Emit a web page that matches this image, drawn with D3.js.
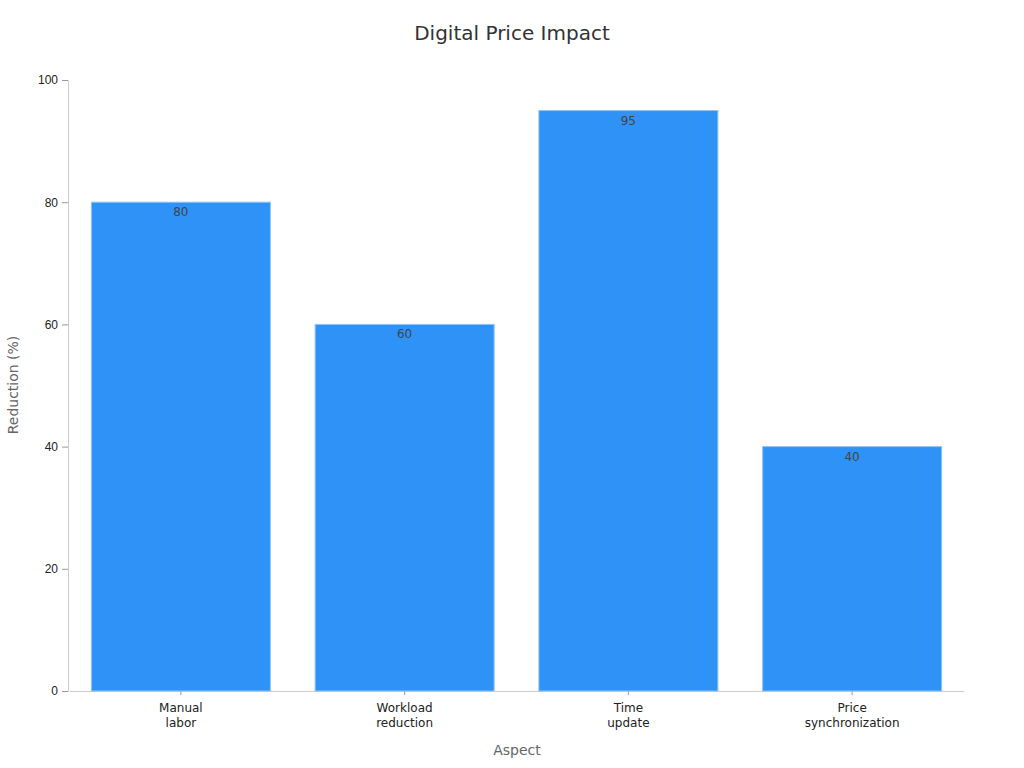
<!DOCTYPE html>
<html>
<head>
<meta charset="utf-8">
<script src="https://cdn.jsdelivr.net/npm/d3@7"></script>
<style>
  body { margin: 0; background: #fff; }
  svg { font-family: "DejaVu Sans", sans-serif; }
</style>
</head>
<body>
<svg id="chart"></svg>
<script>
const categories = [["Manual", "labor"], ["Workload", "reduction"], ["Time", "update"], ["Price", "synchronization"]];
const values = [80, 60, 95, 40];
const yTicks = [0, 20, 40, 60, 80, 100];

const width = 1024, height = 768;
const margin = {top: 80, right: 60, bottom: 77, left: 69};

const svg = d3.select("#chart")
    .attr("width", width)
    .attr("height", height);

const keys = categories.map(c => c.join(" "));

const x = d3.scaleBand()
    .domain(keys)
    .range([margin.left, width - margin.right])
    .paddingInner(0.2)
    .paddingOuter(0.1);

const y = d3.scaleLinear()
    .domain([0, 100])
    .range([height - margin.bottom, margin.top]);

// title
svg.append("text")
    .attr("x", 512)
    .attr("y", 40)
    .attr("text-anchor", "middle")
    .style("font-size", "20px")
    .style("fill", "#333")
    .text("Digital Price Impact");

// y axis
const yAxis = svg.append("g")
    .attr("transform", "translate(68,0)")
    .call(d3.axisLeft(y).tickValues(yTicks).tickSize(6).tickPadding(4));
yAxis.select(".domain").attr("stroke", "#ccc");
yAxis.selectAll(".tick line").attr("stroke", "#999");
yAxis.selectAll(".tick text").style("font-size", "12px").style("fill", "#222");

// x axis
const xAxis = svg.append("g")
    .attr("transform", `translate(0,${height - margin.bottom})`)
    .call(d3.axisBottom(x).tickSize(4).tickSizeOuter(0).tickFormat(""));
xAxis.select(".domain").attr("stroke", "#ccc");
xAxis.selectAll(".tick line").attr("stroke", "#999");

svg.append("g")
    .selectAll("text")
    .data(categories)
    .join("text")
    .attr("x", (d, i) => x(keys[i]) + x.bandwidth() / 2)
    .attr("y", height - margin.bottom + 21)
    .attr("text-anchor", "middle")
    .style("font-size", "12px")
    .style("fill", "#222")
    .selectAll("tspan")
    .data(d => d)
    .join("tspan")
    .attr("x", function () { return d3.select(this.parentNode).attr("x"); })
    .attr("dy", (d, i) => i === 0 ? 0 : 15)
    .text(d => d);

// bars
svg.append("g")
    .selectAll("rect")
    .data(values)
    .join("rect")
    .attr("x", (d, i) => x(keys[i]))
    .attr("y", d => y(d))
    .attr("width", x.bandwidth())
    .attr("height", d => y(0) - y(d))
    .attr("fill", "#2f92f7")
    .attr("stroke", "#8cc4fb")
    .attr("stroke-width", 1);

// value labels
svg.append("g")
    .selectAll("text")
    .data(values)
    .join("text")
    .attr("x", (d, i) => x(keys[i]) + x.bandwidth() / 2)
    .attr("y", d => y(d) + 14)
    .attr("text-anchor", "middle")
    .style("font-size", "12px")
    .style("fill", "#444")
    .text(d => d);

// axis titles
svg.append("text")
    .attr("x", 517)
    .attr("y", 755)
    .attr("text-anchor", "middle")
    .style("font-size", "14px")
    .style("fill", "#666")
    .text("Aspect");

svg.append("text")
    .attr("transform", `translate(18,385) rotate(-90)`)
    .attr("text-anchor", "middle")
    .style("font-size", "14px")
    .style("fill", "#666")
    .text("Reduction (%)");
</script>
</body>
</html>
